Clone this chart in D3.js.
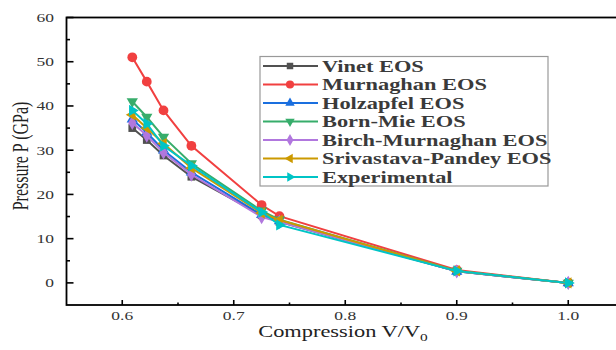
<!DOCTYPE html>
<html>
<head>
<meta charset="utf-8">
<script src="https://cdn.jsdelivr.net/npm/d3@7"></script>
<style>
  body { margin: 0; background: #fff; }
  svg { display: block; }
  text { font-family: "Liberation Serif", "Times New Roman", serif; }
</style>
</head>
<body>
<svg id="chart" width="616" height="350"></svg>
<script>
// data
const compression = [0.609, 0.622, 0.637, 0.662, 0.725, 0.741, 0.9, 1.0];
const vinet      = [35, 32.3, 28.8, 24, 15.3, 13.8, 2.6, 0];
const murnaghan  = [51, 45.5, 39, 31, 17.6, 15.1, 2.9, 0];
const holzapfel  = [37, 34, 30, 25, 15.4, 14, 2.6, 0];
const bornMie    = [41, 37.5, 33, 27, 16.3, 14.3, 2.7, 0];
const birchMurn  = [36.2, 33.3, 29.5, 24.5, 14.9, 13.8, 2.6, 0];
const srivPandey = [38, 35, 31.5, 26, 15.8, 14.2, 2.7, 0];
const experiment = [39, 36, 31, 26.5, 16, 13.1, 2.7, 0];
const seriesNames = ["Vinet EOS", "Murnaghan EOS", "Holzapfel EOS", "Born-Mie EOS",
  "Birch-Murnaghan EOS", "Srivastava-Pandey EOS", "Experimental"];
const xTicks = ["0.6", "0.7", "0.8", "0.9", "1.0"];
const yTicks = [0, 10, 20, 30, 40, 50, 60];

const seriesVals = [vinet, murnaghan, holzapfel, bornMie, birchMurn, srivPandey, experiment];
const colors = ["#515151", "#F14040", "#1A6FDF", "#37AD6B", "#B177DE", "#CC9900", "#00C4C6"];
const symbols = [d3.symbolSquare, d3.symbolCircle, d3.symbolTriangle, d3.symbolTriangle,
  d3.symbolDiamond, d3.symbolTriangle, d3.symbolTriangle];
const rotations = [0, 0, 0, 180, 0, -90, 90];
const symSize = [60, 75, 55, 55, 60, 55, 55];

const svg = d3.select("#chart");
const sx = 1.4; // the picture is stretched sideways

const x = d3.scaleLinear().domain([0.55, 1.05]).range([66.5, 624]);
const y = d3.scaleLinear().domain([-5, 60]).range([305, 17.5]);

// frame
svg.append("rect")
  .attr("x", x(0.55)).attr("y", y(60))
  .attr("width", x(1.05) - x(0.55)).attr("height", y(-5) - y(60))
  .attr("fill", "none").attr("stroke", "#000").attr("stroke-width", 1.8);

// ticks (inside)
const xMinor = [0.65, 0.75, 0.85, 0.95];
const yMinor = d3.range(5, 60, 10);

const g = svg.append("g").attr("stroke", "#000").attr("stroke-width", 1.6);
xTicks.forEach(v => g.append("line").attr("x1", x(+v)).attr("x2", x(+v)).attr("y1", y(-5)).attr("y2", y(-5) - 5));
xMinor.forEach(v => g.append("line").attr("x1", x(v)).attr("x2", x(v)).attr("y1", y(-5)).attr("y2", y(-5) - 2.5));
yTicks.forEach(v => g.append("line").attr("x1", x(0.55)).attr("x2", x(0.55) + 7).attr("y1", y(v)).attr("y2", y(v)));
yMinor.forEach(v => g.append("line").attr("x1", x(0.55)).attr("x2", x(0.55) + 3.5).attr("y1", y(v)).attr("y2", y(v)));

// stretched text helper
const stretchText = (px, py, txt, size, anchor) => {
  return svg.append("g").attr("transform", `translate(${px},${py}) scale(${sx},1)`)
    .append("text").attr("font-size", size).attr("fill", "#333")
    .attr("text-anchor", anchor).text(txt);
};
xTicks.forEach(v => stretchText(x(+v), 320, v, 12.5, "middle"));
yTicks.forEach(v => stretchText(54, y(v) + 4.5, v, 12.5, "end"));

// axis titles
const xt = stretchText(343, 337, "Compression V/V", 16, "middle").attr("fill", "#222");
xt.append("tspan").attr("font-size", 11).attr("dy", 4).text("0");
svg.append("g").attr("transform", `translate(28,156) scale(${sx},1) rotate(-90)`)
  .append("text").attr("font-size", 16).attr("fill", "#222")
  .attr("text-anchor", "middle").text("Pressure P (GPa)");

// series
const line = d3.line().x(d => x(d[0])).y(d => y(d[1]));
seriesVals.forEach((vals, i) => {
  const pts = compression.map((c, j) => [c, vals[j]]);
  svg.append("path").attr("d", line(pts)).attr("fill", "none")
    .attr("stroke", colors[i]).attr("stroke-width", 2);
  svg.append("g").selectAll("path").data(pts).join("path")
    .attr("d", d3.symbol(symbols[i], symSize[i]))
    .attr("transform", d => `translate(${x(d[0])},${y(d[1])}) rotate(${rotations[i]})`)
    .attr("fill", colors[i]);
});

// legend
svg.append("rect").attr("x", 260).attr("y", 56.5).attr("width", 288).attr("height", 129.5)
  .attr("fill", "#fff").attr("stroke", "#999").attr("stroke-width", 1.2);
seriesNames.forEach((name, i) => {
  const ly = 66 + i * 18.5;
  svg.append("line").attr("x1", 263).attr("x2", 318).attr("y1", ly).attr("y2", ly)
    .attr("stroke", colors[i]).attr("stroke-width", 2);
  svg.append("path").attr("d", d3.symbol(symbols[i], symSize[i] * 0.7))
    .attr("transform", `translate(290,${ly}) rotate(${rotations[i]})`)
    .attr("fill", colors[i]);
  stretchText(322, ly + 5.5, name, 16, "start").attr("font-weight", "bold").attr("fill", "#3a3a3a");
});
</script>
</body>
</html>
